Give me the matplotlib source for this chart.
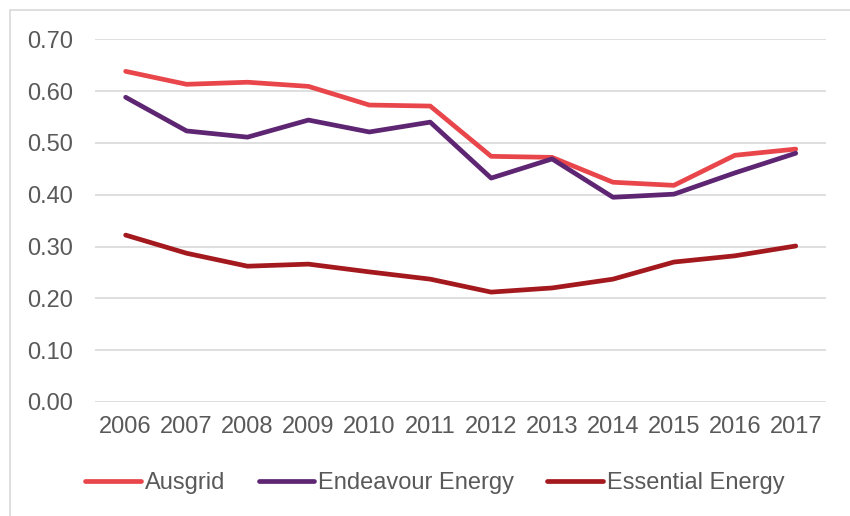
import matplotlib.pyplot as plt
import matplotlib.patches as patches

plt.rcParams['font.family'] = ['Liberation Sans', 'DejaVu Sans']

years = ['2006', '2007', '2008', '2009', '2010', '2011', '2012', '2013', '2014', '2015', '2016', '2017']
ausgrid = [0.638, 0.613, 0.617, 0.609, 0.573, 0.571, 0.474, 0.472, 0.424, 0.418, 0.476, 0.488]
endeavour = [0.588, 0.523, 0.511, 0.544, 0.521, 0.540, 0.432, 0.469, 0.395, 0.401, 0.442, 0.480]
essential = [0.322, 0.287, 0.262, 0.266, 0.251, 0.237, 0.212, 0.220, 0.237, 0.270, 0.282, 0.301]

series = [
    ('Ausgrid', ausgrid, '#e8464b'),
    ('Endeavour Energy', endeavour, '#5d2572'),
    ('Essential Energy', essential, '#a3191e'),
]

fig = plt.figure(figsize=(8.5, 5.16), dpi=100)
ax = fig.add_axes([0.112, 0.221, 0.86, 0.703])

x = range(len(years))
for name, vals, col in series:
    ax.plot(x, vals, color=col, linewidth=3.4, solid_capstyle='round', label=name)

ax.set_xlim(-0.5, len(years) - 0.5)
ax.set_ylim(0, 0.7)
ax.set_yticks([i / 10 for i in range(8)])
ax.set_yticklabels([f'{i / 10:.2f}' for i in range(8)])
ax.set_xticks(list(x))
ax.set_xticklabels(years)
ax.grid(axis='y', color='#d9d9d9', linewidth=1.2)
ax.set_axisbelow(True)
for s in ax.spines.values():
    s.set_visible(False)
ax.tick_params(length=0, labelsize=17, colors='#595959', pad=10)
ax.tick_params(axis='y', pad=16)

leg = ax.legend(loc='upper center', bbox_to_anchor=(0.465, -0.135), ncol=3, frameon=False,
                fontsize=17, handlelength=2.35, columnspacing=1.4, handletextpad=0.18)
for t in leg.get_texts():
    t.set_color('#595959')

border = patches.Rectangle((10 / 850, -0.01), 1.0, 1 - 10 / 516 + 0.01, transform=fig.transFigure,
                           fill=False, edgecolor='#d9d9d9', linewidth=1.2)
fig.patches.append(border)

fig.savefig('out.png', dpi=100)
